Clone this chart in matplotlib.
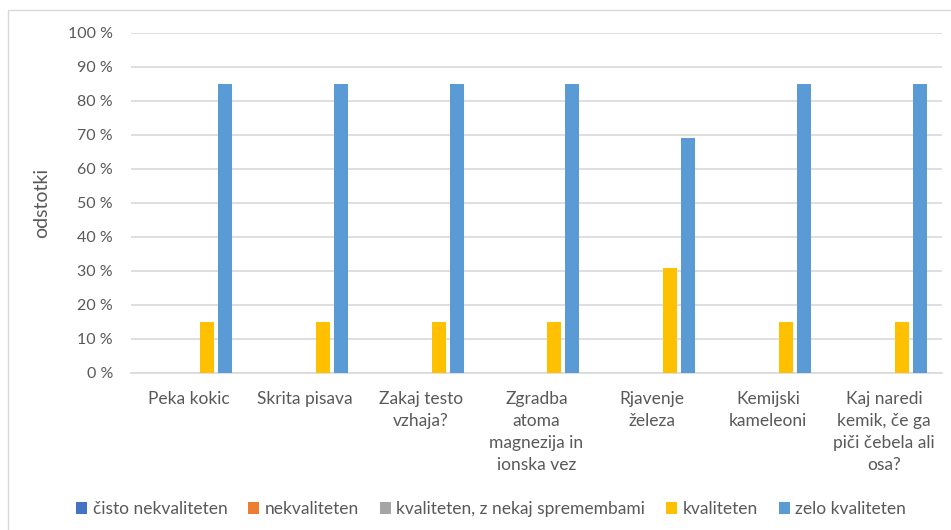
import matplotlib
matplotlib.use("Agg")
import matplotlib.pyplot as plt
import numpy as np
from matplotlib.patches import Rectangle

categories = ["Peka kokic", "Skrita pisava", "Zakaj testo\nvzhaja?",
              "Zgradba\natoma\nmagnezija in\nionska vez", "Rjavenje\nželeza",
              "Kemijski\nkameleoni", "Kaj naredi\nkemik, če ga\npiči čebela ali\nosa?"]
series_names = ["čisto nekvaliteten", "nekvaliteten", "kvaliteten, z nekaj spremembami",
                "kvaliteten", "zelo kvaliteten"]
cisto_nekvaliteten = [0, 0, 0, 0, 0, 0, 0]
nekvaliteten = [0, 0, 0, 0, 0, 0, 0]
kvaliteten_spremembe = [0, 0, 0, 0, 0, 0, 0]
kvaliteten = [15, 15, 15, 15, 31, 15, 15]
zelo_kvaliteten = [85, 85, 85, 85, 69, 85, 85]
yticks = [0, 10, 20, 30, 40, 50, 60, 70, 80, 90, 100]
ytick_labels = [f"{v} %" for v in yticks]

colors = ["#4472C4", "#ED7D31", "#A5A5A5", "#FFC000", "#5B9BD5"]
text_color = "#595959"
grid_color = "#D9D9D9"

plt.rcParams['font.family'] = ['Lato', 'DejaVu Sans']

W, H = 951, 530
fig = plt.figure(figsize=(W / 100, H / 100), dpi=100)
fig.patch.set_facecolor("white")

# outer chart border
fig.add_artist(Rectangle((8 / W, -0.1), 1.2, (H - 10) / H + 0.1, transform=fig.transFigure,
                         fill=False, edgecolor="#D9D9D9", linewidth=1))

left, right, top, bottom = 131, 942, 33, 373
ax = fig.add_axes([left / W, 1 - bottom / H, (right - left) / W, (bottom - top) / H])

data = [cisto_nekvaliteten, nekvaliteten, kvaliteten_spremembe, kvaliteten, zelo_kvaliteten]
x = np.arange(len(categories))
step = 18 / 116
width = 14 / 116
for i, (vals, name, c) in enumerate(zip(data, series_names, colors)):
    ax.bar(x + (i - 2) * step, vals, width=width, color=c, label=name, zorder=3)

ax.set_xlim(-0.5, len(categories) - 0.5)
ax.set_ylim(0, 100)
ax.set_yticks(yticks)
ax.set_yticklabels(ytick_labels)
ax.yaxis.grid(True, color=grid_color, linewidth=1.2, zorder=0)
ax.set_axisbelow(True)
for s in ["top", "right", "left"]:
    ax.spines[s].set_visible(False)
ax.spines["bottom"].set_color(grid_color)
ax.spines["bottom"].set_linewidth(1.2)
ax.tick_params(axis="both", length=0, colors=text_color)
ax.tick_params(axis="y", pad=13, labelsize=11.5)
ax.tick_params(axis="x", pad=13, labelsize=12.5)
ax.set_xticks(x)
ax.set_xticklabels(categories, linespacing=1.45, va="top")
ax.set_ylabel("odstotki", color=text_color, fontsize=14)
ax.yaxis.set_label_coords((50 - left) / (right - left), 0.5)

handles, labels = ax.get_legend_handles_labels()
leg = fig.legend(handles, labels, loc="center", bbox_to_anchor=(491 / W, 1 - 509 / H), ncol=5,
                 frameon=False, fontsize=12.5, handlelength=0.65, handleheight=0.65,
                 handletextpad=0.3, columnspacing=1.2)
for t in leg.get_texts():
    t.set_color(text_color)

fig.savefig("out.png", dpi=100, facecolor="white")
